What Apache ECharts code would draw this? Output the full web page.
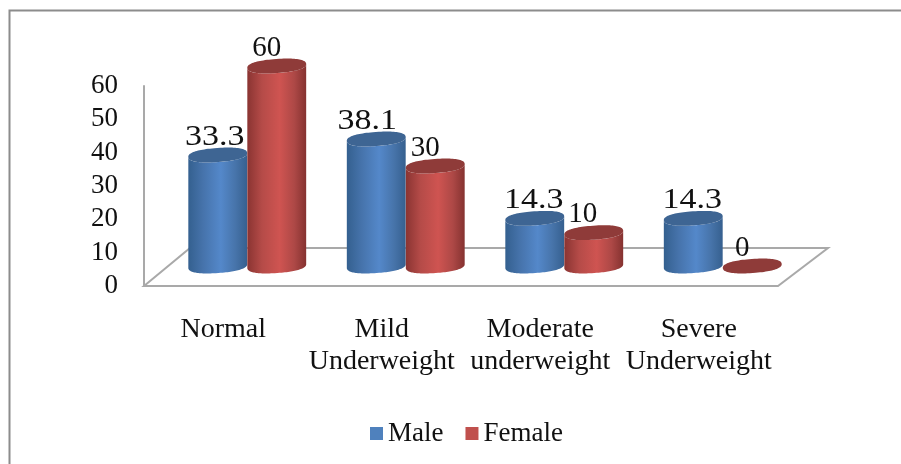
<!DOCTYPE html>
<html><head><meta charset="utf-8">
<style>html,body{margin:0;padding:0;background:#fff}#c{width:901px;height:464px}</style>
<script src="https://cdn.jsdelivr.net/npm/echarts@6/dist/echarts.min.js"></script>
</head><body><div id="c"></div>
<script>
var categories = ['Normal', 'Mild\nUnderweight', 'Moderate\nunderweight', 'Severe\nUnderweight'];
var male = [33.3, 38.1, 14.3, 14.3];
var female = [60, 30, 10, 0];
var yTicks = [0, 10, 20, 30, 40, 50, 60];
var maleLabelNudge = [-3, -9, -1, -1];
var femaleLabelNudge = [-10, -10, -11, -10];

var FONT = '"Liberation Serif","Times New Roman",serif';
var DEPTH_X = 46, DEPTH_Y = 38;   // floor depth
var BAR_W = 59, ELL_RY = 7, TILT = 0.07, LIFT = 20, PAIR_SHIFT = 24, ROUND = 0.85;

var chart = echarts.init(document.getElementById('c'), null, {renderer: 'canvas'});

function spow(c) { return (c < 0 ? -1 : 1) * Math.pow(Math.abs(c), ROUND); }
function ellipsePts(cx, cy, from, to, n) {
  var a = BAR_W / 2, b = ELL_RY, pts = [];
  for (var i = 0; i <= n; i++) {
    var t = from + (to - from) * i / n;
    var x = a * spow(Math.cos(t)), y = b * spow(Math.sin(t));
    pts.push([cx + x * Math.cos(TILT) + y * Math.sin(TILT), cy - x * Math.sin(TILT) + y * Math.cos(TILT)]);
  }
  return pts;
}
function cyl(stops, topColor, side, nudges) {
  return function (params, api) {
    var idx = api.value(0), v = api.value(1);
    var pTop = api.coord([idx, v]), pBase = api.coord([idx, 0]);
    var cx = pBase[0] + PAIR_SHIFT + side * (BAR_W / 2);
    var yb = pBase[1] - LIFT, yt = pTop[1] - LIFT;
    var children = [];
    if (v > 0) {
      var lower = ellipsePts(cx, yb, Math.PI, 0, 60);
      var upper = ellipsePts(cx, yt, 0, Math.PI, 60);
      children.push({
        type: 'polygon',
        shape: {points: lower.concat(upper)},
        style: {fill: new echarts.graphic.LinearGradient(0, 0, 1, 0, stops)}
      });
    }
    children.push({
      type: 'polygon',
      shape: {points: ellipsePts(cx, yt, 0, Math.PI * 2, 96)},
      style: {fill: topColor}
    });
    var s = String(v);
    children.push({
      type: 'text',
      x: cx + nudges[idx], y: yt - ELL_RY - 11,
      scaleX: s.indexOf('.') >= 0 ? 1.17 : 1,
      style: {
        text: s, x: 0, y: 0,
        align: 'center', verticalAlign: 'middle',
        font: '29px ' + FONT, fill: '#111'
      }
    });
    return {type: 'group', children: children};
  };
}
function floor(params, api) {
  var c = params.coordSys;
  var y0 = c.y + c.height, x0 = c.x, x1 = c.x + c.width;
  return {
    type: 'polygon', silent: true,
    shape: {points: [[x0, y0], [x0 + DEPTH_X, y0 - DEPTH_Y], [x1 + DEPTH_X + 4, y0 - DEPTH_Y], [x1, y0]]},
    style: {fill: '#fff', stroke: '#a9a9a9', lineWidth: 2}
  };
}
var blueStops = [{offset: 0, color: '#34608f'}, {offset: .25, color: '#4673ab'}, {offset: .55, color: '#5488ca'}, {offset: .8, color: '#4774aa'}, {offset: 1, color: '#36608f'}];
var redStops = [{offset: 0, color: '#8a3432'}, {offset: .25, color: '#b54b48'}, {offset: .55, color: '#cf5451'}, {offset: .8, color: '#ad4846'}, {offset: 1, color: '#853230'}];

chart.setOption({
  animation: false,
  backgroundColor: '#fff',
  textStyle: {fontFamily: FONT},
  graphic: [{
    type: 'polyline', silent: true, z: 0,
    shape: {points: [[9.5, 464], [9.5, 10.5], [901, 10.5]]},
    style: {stroke: '#8c8c8c', lineWidth: 2, fill: 'none'}
  }],
  grid: {left: 144, right: 123, top: 86, bottom: 178, containLabel: false},
  legend: {
    show: true, data: ['Male', 'Female'], icon: 'rect',
    left: 365, top: 415, itemWidth: 13, itemHeight: 13, itemGap: 22,
    textStyle: {fontFamily: FONT, fontSize: 27, color: '#111', padding: 0}
  },
  xAxis: {
    type: 'category', data: categories, boundaryGap: true,
    axisLine: {show: false}, axisTick: {show: false}, splitLine: {show: false},
    axisLabel: {interval: 0, margin: 28, fontFamily: FONT, fontSize: 28, lineHeight: 32, color: '#111'}
  },
  yAxis: {
    type: 'value', min: yTicks[0], max: yTicks[yTicks.length - 1], interval: yTicks[1] - yTicks[0],
    axisLine: {show: true, lineStyle: {color: '#a9a9a9', width: 2}},
    axisTick: {show: false}, splitLine: {show: false},
    axisLabel: {margin: 26, fontFamily: FONT, fontSize: 27, color: '#111'}
  },
  series: [
    {type: 'custom', name: 'floor', silent: true, z: 1, data: [[0, 0]], renderItem: floor, encode: {x: 0, y: 1}, tooltip: {show: false}},
    {type: 'custom', name: 'Male', z: 3, itemStyle: {color: '#4f81bd'},
      data: male.map(function (v, i) {return [i, v];}), encode: {x: 0, y: 1},
      renderItem: cyl(blueStops, '#3e6593', -1, maleLabelNudge)},
    {type: 'custom', name: 'Female', z: 4, itemStyle: {color: '#c0504d'},
      data: female.map(function (v, i) {return [i, v];}), encode: {x: 0, y: 1},
      renderItem: cyl(redStops, '#8f3b39', 1, femaleLabelNudge)}
  ]
});
</script></body></html>
